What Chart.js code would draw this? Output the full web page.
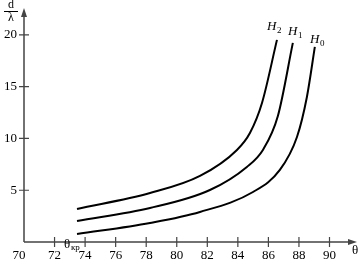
<!DOCTYPE html>
<html>
<head>
<meta charset="utf-8">
<script src="https://cdn.jsdelivr.net/npm/chart.js@4/dist/chart.umd.min.js"></script>
<style>
  html, body { margin: 0; padding: 0; background: #fff; }
  #wrap { width: 362px; height: 265px; }
</style>
</head>
<body>
<div id="wrap"><canvas id="plot" width="362" height="265"></canvas></div>
<script>
// Data
const h2Theta = [73.47, 78.25, 81.52, 83.94, 84.79, 85.58, 86.56];
const h2Ratio = [3.19, 4.73, 6.38, 8.89, 10.53, 13.43, 19.52];
const h1Theta = [73.47, 78.25, 82.17, 84.59, 85.64, 86.62, 87.60];
const h1Ratio = [2.03, 3.29, 5.02, 7.25, 8.89, 12.17, 19.23];
const h0Theta = [73.47, 78.25, 81.52, 84.99, 86.75, 87.87, 88.52, 89.04];
const h0Ratio = [0.77, 1.84, 2.90, 4.83, 6.96, 10.14, 14.01, 18.84];

const xTicks = [70, 72, 74, 76, 78, 80, 82, 84, 86, 88, 90];
const yTicks = [5, 10, 15, 20];
const curveNames = ['H2', 'H1', 'H0'];

function toPoints(xs, ys) {
    return xs.map((x, i) => ({ x: x, y: ys[i] }));
}

const serif = '"Liberation Serif", "DejaVu Serif", serif';

// Draws the axes with arrows, ticks and all texts
const axesPlugin = {
    id: 'axesPlugin',
    afterDraw(chart) {
        const ctx = chart.ctx;
        const xs = chart.scales.x;
        const ys = chart.scales.y;
        const area = chart.chartArea;
        const x0 = area.left;
        const y0 = area.bottom;

        ctx.save();
        ctx.strokeStyle = '#444';
        ctx.fillStyle = '#444';
        ctx.lineWidth = 1.5;

        // axis lines
        ctx.beginPath();
        ctx.moveTo(x0, y0);
        ctx.lineTo(x0, area.top + 4);
        ctx.moveTo(x0, y0);
        ctx.lineTo(area.right - 4, y0);
        ctx.stroke();

        // arrows
        ctx.beginPath();
        ctx.moveTo(x0, area.top);
        ctx.lineTo(x0 - 3, area.top + 9);
        ctx.lineTo(x0 + 3, area.top + 9);
        ctx.closePath();
        ctx.fill();
        ctx.beginPath();
        ctx.moveTo(area.right, y0);
        ctx.lineTo(area.right - 9, y0 - 3);
        ctx.lineTo(area.right - 9, y0 + 3);
        ctx.closePath();
        ctx.fill();

        // ticks
        ctx.lineWidth = 1.2;
        ctx.beginPath();
        xTicks.forEach(v => {
            if (v === 70) return;
            const px = xs.getPixelForValue(v);
            ctx.moveTo(px, y0 - 5);
            ctx.lineTo(px, y0 + 5);
        });
        yTicks.forEach(v => {
            const py = ys.getPixelForValue(v);
            ctx.moveTo(x0 - 5, py);
            ctx.lineTo(x0 + 5, py);
        });
        ctx.stroke();

        // tick labels
        ctx.fillStyle = '#000';
        ctx.font = '13px ' + serif;
        ctx.textAlign = 'center';
        ctx.textBaseline = 'middle';
        xTicks.forEach(v => {
            const px = v === 70 ? x0 - 5 : xs.getPixelForValue(v);
            ctx.fillText(String(v), px, y0 + 14);
        });
        ctx.textAlign = 'right';
        yTicks.forEach(v => {
            ctx.fillText(String(v), x0 - 7, ys.getPixelForValue(v));
        });

        // d / lambda label
        ctx.textAlign = 'center';
        ctx.font = '12px ' + serif;
        ctx.fillText('d', 11, 5);
        ctx.fillText('λ', 11, 18);
        ctx.strokeStyle = '#000';
        ctx.lineWidth = 1;
        ctx.beginPath();
        ctx.moveTo(4, 11.5);
        ctx.lineTo(18, 11.5);
        ctx.stroke();

        // theta at the end of x axis
        ctx.font = '13px ' + serif;
        ctx.fillText('θ', 355, y0 + 9);

        // theta critical
        ctx.textAlign = 'left';
        ctx.fillText('θ', 64, y0 + 3);
        ctx.font = '9px ' + serif;
        ctx.fillText('кр', 71, y0 + 6);

        // curve names
        const namePos = [[267, 27], [288, 32], [310, 40]];
        curveNames.forEach((n, i) => {
            const p = namePos[i];
            ctx.font = 'italic 13px ' + serif;
            ctx.fillText(n[0], p[0], p[1]);
            ctx.font = '9px ' + serif;
            ctx.fillText(n.slice(1), p[0] + 10, p[1] + 4);
        });
        ctx.restore();
    }
};

const lineStyle = {
    borderColor: '#000',
    borderWidth: 2,
    pointRadius: 0,
    fill: false,
    cubicInterpolationMode: 'monotone'
};

new Chart(document.getElementById('plot'), {
    type: 'line',
    data: {
        datasets: [
            Object.assign({ label: curveNames[0], data: toPoints(h2Theta, h2Ratio) }, lineStyle),
            Object.assign({ label: curveNames[1], data: toPoints(h1Theta, h1Ratio) }, lineStyle),
            Object.assign({ label: curveNames[2], data: toPoints(h0Theta, h0Ratio) }, lineStyle)
        ]
    },
    options: {
        responsive: false,
        animation: false,
        layout: { padding: { left: 24, right: 5, top: 8, bottom: 23 } },
        plugins: {
            legend: { display: false },
            tooltip: { enabled: false }
        },
        scales: {
            x: { type: 'linear', min: 70, max: 91.8, display: false },
            y: { type: 'linear', min: 0, max: 22.6, display: false }
        }
    },
    plugins: [axesPlugin]
});
</script>
</body>
</html>
